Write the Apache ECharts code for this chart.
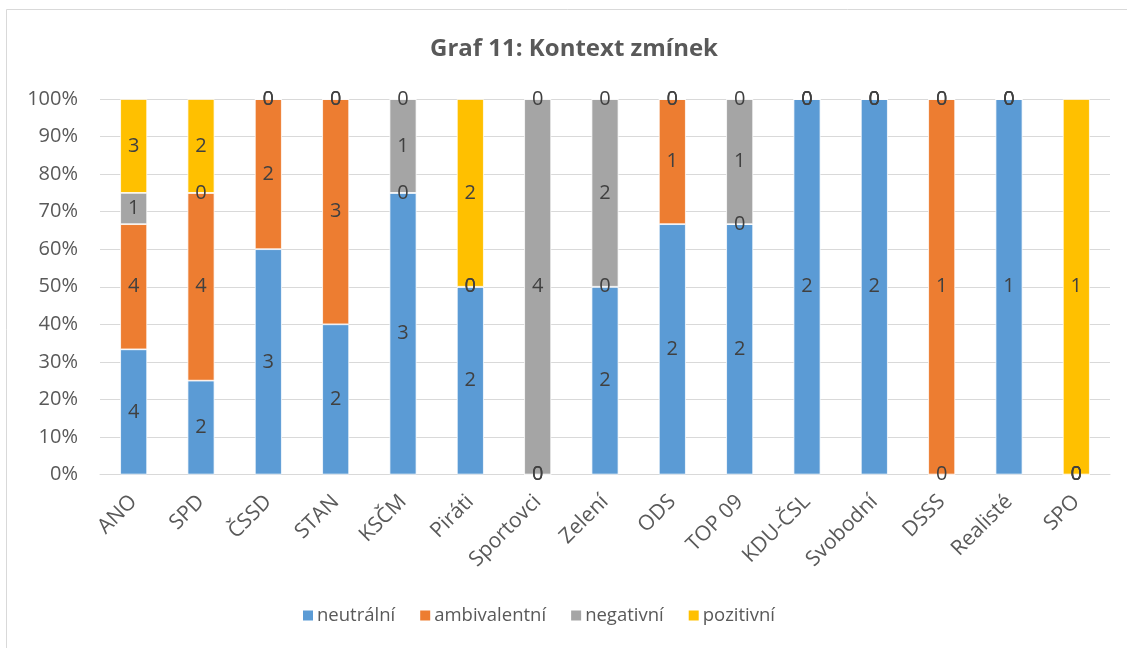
<!DOCTYPE html>
<html>
<head>
<meta charset="utf-8">
<script src="https://cdn.jsdelivr.net/npm/echarts@6/dist/echarts.min.js"></script>
<style>
html,body{margin:0;padding:0;background:#fff;}
#c{width:1127px;height:648px;}
</style>
</head>
<body>
<div id="c"></div>
<script>
const categories = ['ANO','SPD','ČSSD','STAN','KSČM','Piráti','Sportovci','Zelení','ODS','TOP 09','KDU-ČSL','Svobodní','DSSS','Realisté','SPO'];
const seriesNames = ['neutrální','ambivalentní','negativní','pozitivní'];
const neutralni    = [4,2,3,2,3,2,0,2,2,2,2,2,0,1,0];
const ambivalentni = [4,4,2,3,0,0,0,0,1,0,0,0,1,0,0];
const negativni    = [1,0,0,0,1,0,4,2,0,1,0,0,0,0,0];
const pozitivni    = [3,2,0,0,0,2,0,0,0,0,0,0,0,0,1];
const yTicks = [0,10,20,30,40,50,60,70,80,90,100];
const colors = ['#5B9BD5','#ED7D31','#A5A5A5','#FFC000'];

const raw = [neutralni, ambivalentni, negativni, pozitivni];
const totals = categories.map((c,i)=>raw.reduce((s,a)=>s+a[i],0));
const FONT = '"Open Sans", sans-serif';

const chart = echarts.init(document.getElementById('c'));
chart.setOption({
  animation:false,
  backgroundColor:'#fff',
  title:{
    text:'Graf 11: Kontext zmínek',
    left:569, top:32, textAlign:'center',
    textStyle:{fontFamily:FONT,fontSize:24,fontWeight:'bold',color:'#595959'}
  },
  graphic:[{type:'rect',shape:{x:6.5,y:9.5,width:1200,height:800},style:{fill:'none',stroke:'#D9D9D9',lineWidth:1},silent:true,z:-1}],
  legend:{
    left:296, top:601, itemWidth:12, itemHeight:12, itemGap:23,
    icon:'rect',
    textStyle:{fontFamily:FONT,fontSize:18.5,color:'#595959',padding:[0,0,0,-2]},
    data:seriesNames
  },
  grid:{left:100,right:17,top:99,bottom:173.5,containLabel:false},
  xAxis:{
    type:'category', data:categories,
    axisLine:{lineStyle:{color:'#D9D9D9',width:1}},
    axisTick:{show:false},
    axisLabel:{rotate:45,margin:24,fontFamily:FONT,fontSize:21,color:'#595959',interval:0}
  },
  yAxis:{
    type:'value', min:0, max:100, interval:10,
    axisLine:{show:false}, axisTick:{show:false},
    splitLine:{lineStyle:{color:'#D9D9D9',width:1}},
    axisLabel:{formatter:v=>yTicks.includes(v)?v+'%':'',margin:22,fontFamily:FONT,fontSize:20,color:'#595959'}
  },
  series: seriesNames.map((name,si)=>({
    name, type:'bar', stack:'total', barWidth:'40%',
    itemStyle:{color:colors[si],borderColor:'#fff',borderWidth:0.75},
    label:{show:true,position:'inside',fontFamily:FONT,fontSize:20,color:'#404040',
      formatter:p=>String(raw[si][p.dataIndex])},
    data: raw[si].map((v,i)=>totals[i]?v/totals[i]*100:0)
  }))
});
</script>
</body>
</html>
